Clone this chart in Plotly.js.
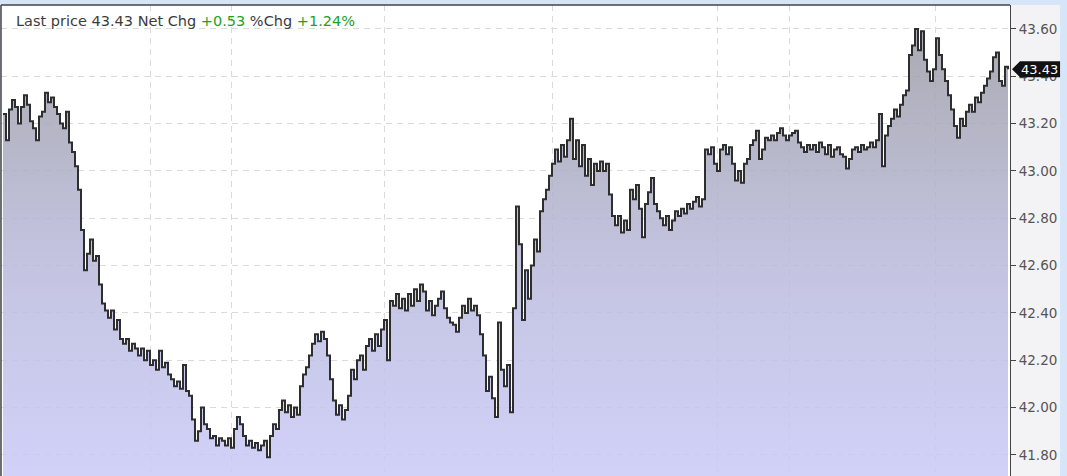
<!DOCTYPE html>
<html>
<head>
<meta charset="utf-8">
<script src="https://cdn.plot.ly/plotly-3.0.1.min.js"></script>
<style>
  html, body { margin: 0; padding: 0; background: #d6e6f8; }
  #chart { width: 1067px; height: 476px; }
</style>
</head>
<body>
<div id="chart"></div>
<script>
// ---- data ----
const prices = [
  43.24, 43.13, 43.26, 43.30, 43.27, 43.20, 43.27, 43.32, 43.28, 43.21,
  43.18, 43.13, 43.23, 43.25, 43.33, 43.29, 43.31, 43.27, 43.24, 43.20,
  43.18, 43.25, 43.12, 43.08, 43.02, 42.92, 42.75, 42.58, 42.65, 42.71,
  42.62, 42.64, 42.52, 42.44, 42.41, 42.38, 42.41, 42.33, 42.37, 42.29,
  42.27, 42.29, 42.24, 42.27, 42.25, 42.22, 42.25, 42.20, 42.24, 42.18,
  42.20, 42.16, 42.24, 42.17, 42.19, 42.14, 42.12, 42.09, 42.11, 42.08,
  42.18, 42.07, 42.05, 41.95, 41.86, 41.90, 42.00, 41.93, 41.91, 41.87,
  41.88, 41.84, 41.87, 41.86, 41.84, 41.87, 41.83, 41.91, 41.96, 41.93,
  41.88, 41.84, 41.86, 41.83, 41.85, 41.82, 41.84, 41.86, 41.79, 41.88,
  41.93, 41.91, 41.99, 42.03, 41.98, 42.01, 41.96, 42.00, 41.97, 42.09,
  42.14, 42.17, 42.22, 42.27, 42.31, 42.28, 42.32, 42.29, 42.22, 42.12,
  42.03, 41.97, 42.01, 41.95, 41.99, 42.05, 42.16, 42.12, 42.20, 42.22,
  42.16, 42.26, 42.29, 42.24, 42.31, 42.26, 42.33, 42.37, 42.20, 42.45,
  42.43, 42.48, 42.42, 42.46, 42.41, 42.48, 42.43, 42.50, 42.45, 42.52,
  42.49, 42.41, 42.45, 42.39, 42.43, 42.46, 42.49, 42.42, 42.38, 42.36,
  42.35, 42.32, 42.38, 42.43, 42.40, 42.46, 42.41, 42.43, 42.39, 42.31,
  42.22, 42.07, 42.13, 42.04, 41.96, 42.36, 42.16, 42.09, 42.18, 41.98,
  42.42, 42.85, 42.69, 42.37, 42.58, 42.46, 42.60, 42.71, 42.66, 42.83,
  42.88, 42.92, 42.98, 43.03, 43.09, 43.04, 43.11, 43.06, 43.13, 43.22,
  43.05, 43.13, 43.02, 43.11, 42.98, 43.05, 42.94, 43.03, 43.00, 43.04,
  43.00, 43.03, 42.90, 42.81, 42.77, 42.81, 42.74, 42.79, 42.75, 42.92,
  42.88, 42.94, 42.84, 42.72, 42.86, 42.91, 42.97, 42.86, 42.83, 42.80,
  42.77, 42.81, 42.75, 42.79, 42.83, 42.81, 42.84, 42.82, 42.86, 42.84,
  42.87, 42.89, 42.85, 42.88, 43.09, 43.07, 43.10, 43.03, 43.00, 43.09,
  43.11, 43.07, 43.10, 43.03, 42.96, 43.00, 42.95, 43.03, 43.05, 43.11,
  43.13, 43.17, 43.05, 43.09, 43.14, 43.13, 43.15, 43.13, 43.16, 43.18,
  43.15, 43.13, 43.15, 43.16, 43.17, 43.12, 43.10, 43.08, 43.11, 43.09,
  43.11, 43.08, 43.12, 43.10, 43.07, 43.11, 43.06, 43.09, 43.10, 43.07,
  43.06, 43.01, 43.05, 43.09, 43.10, 43.08, 43.11, 43.09, 43.10, 43.12,
  43.10, 43.13, 43.24, 43.02, 43.15, 43.19, 43.22, 43.26, 43.23, 43.28,
  43.32, 43.34, 43.49, 43.53, 43.60, 43.51, 43.59, 43.47, 43.42, 43.38,
  43.43, 43.56, 43.49, 43.43, 43.38, 43.32, 43.26, 43.19, 43.14, 43.22,
  43.19, 43.25, 43.28, 43.25, 43.31, 43.29, 43.33, 43.36, 43.39, 43.42,
  43.48, 43.50, 43.38, 43.36, 43.44, 43.43
];
const timeIndex = prices.map((_, i) => i);
const sessionBreaks = [49.3, 76.3, 127, 183.3, 238, 262.3, 310.7];
const yTickValues = [41.8, 42.0, 42.2, 42.4, 42.6, 42.8, 43.0, 43.2, 43.4, 43.6];
const lastPrice = 43.43;
const netChange = 0.53;
const pctChange = 1.24;

// ---- chart ----
const yRange = [41.711, 43.701];
const plotHeightPx = 471;
const pxPerUnit = plotHeightPx / (yRange[1] - yRange[0]);
const tagHalf = 8 / pxPerUnit;

const trace = {
  type: 'scatter',
  mode: 'lines',
  x: timeIndex,
  y: prices,
  line: { color: '#2e2e2e', width: 2, shape: 'hv' },
  fill: 'tozeroy',
  fillgradient: {
    type: 'vertical',
    start: yRange[0],
    stop: 43.5,
    colorscale: [
      [0, 'rgba(202,202,248,0.86)'],
      [0.5, 'rgba(186,186,220,0.86)'],
      [1, 'rgba(160,160,172,0.86)']
    ]
  },
  hoverinfo: 'skip'
};

const green = '#22a022';
const header = 'Last price ' + lastPrice.toFixed(2) + ' Net Chg ' +
  '<span style="color:' + green + '">+' + netChange.toFixed(2) + '</span> %Chg ' +
  '<span style="color:' + green + '">+' + pctChange.toFixed(2) + '%</span>';

const layout = {
  width: 1067,
  height: 476,
  margin: { l: 1, r: 57, t: 5, b: 0, pad: 0 },
  paper_bgcolor: '#d6e6f8',
  plot_bgcolor: '#ffffff',
  showlegend: false,
  font: { family: 'DejaVu Sans, sans-serif', color: '#555555', size: 13 },
  xaxis: {
    range: [-0.667, 335.667],
    tickvals: sessionBreaks,
    showticklabels: false,
    ticks: '',
    showgrid: true,
    gridcolor: '#dadada',
    griddash: '6px,5px',
    gridwidth: 1,
    zeroline: false,
    showline: false,
    fixedrange: true
  },
  yaxis: {
    side: 'right',
    range: yRange,
    tickvals: yTickValues,
    tickformat: '.2f',
    ticks: 'outside',
    ticklen: 5,
    tickwidth: 1,
    tickcolor: '#444444',
    tickfont: { family: 'DejaVu Sans, sans-serif', size: 13.5, color: '#555555' },
    showgrid: true,
    gridcolor: '#dadada',
    griddash: '6px,5px',
    gridwidth: 1,
    zeroline: false,
    showline: true,
    linecolor: '#444444',
    linewidth: 1,
    fixedrange: true
  },
  shapes: [
    { type: 'rect', xref: 'paper', yref: 'paper', x0: 1, x1: 1.0496, y0: 0, y1: 1,
      fillcolor: '#f3f3f5', line: { width: 0 }, layer: 'below' },
    { type: 'line', xref: 'paper', yref: 'paper', x0: 0, x1: 0, y0: 0, y1: 1,
      line: { color: '#444444', width: 1.5 }, layer: 'above' },
    { type: 'line', xref: 'paper', yref: 'paper', x0: 0, x1: 1, y0: 1, y1: 1,
      line: { color: '#444444', width: 1.5 }, layer: 'above' },
    { type: 'path', xref: 'paper', yref: 'y',
      path: 'M 1.002,' + lastPrice + ' L 1.0099,' + (lastPrice + tagHalf) +
            ' L 1.0496,' + (lastPrice + tagHalf) + ' L 1.0496,' + (lastPrice - tagHalf) +
            ' L 1.0099,' + (lastPrice - tagHalf) + ' Z',
      fillcolor: '#111111', line: { width: 0 }, layer: 'above' }
  ],
  annotations: [
    { xref: 'paper', yref: 'paper', x: 0.0129, y: 0.966, xanchor: 'left', yanchor: 'middle',
      showarrow: false, text: header,
      font: { family: 'DejaVu Sans, sans-serif', size: 14.5, color: '#3c3c3c' } },
    { xref: 'paper', yref: 'y', x: 1.0297, y: lastPrice, xanchor: 'center', yanchor: 'middle',
      showarrow: false, text: lastPrice.toFixed(2),
      font: { family: 'DejaVu Sans, sans-serif', size: 13, color: '#ffffff' } }
  ]
};

Plotly.newPlot('chart', [trace], layout, { displayModeBar: false, staticPlot: true });
</script>
</body>
</html>
